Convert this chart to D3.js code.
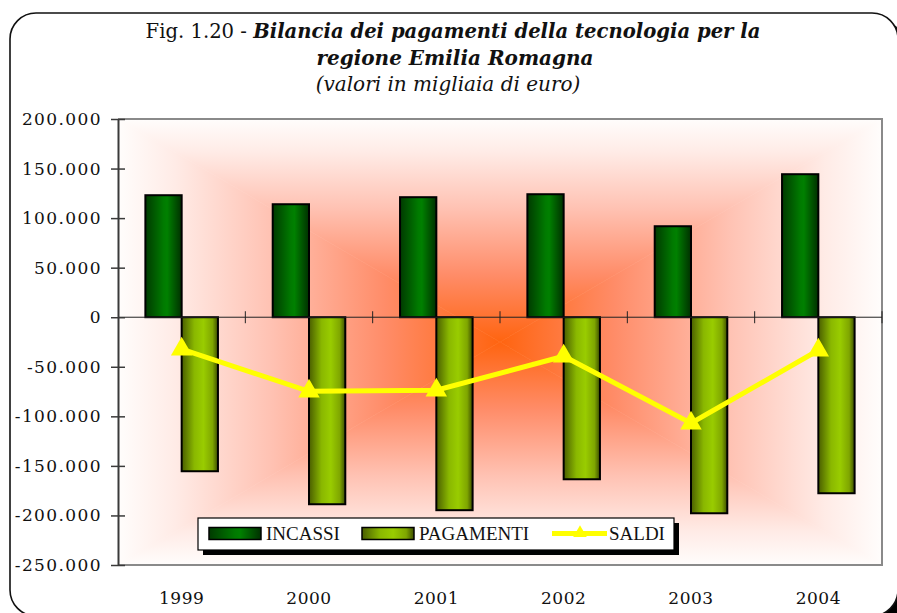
<!DOCTYPE html>
<html>
<head>
<meta charset="utf-8">
<script src="https://cdn.jsdelivr.net/npm/d3@7"></script>
<style>
  body { margin: 0; background: #fff; }
  svg { display: block; }
</style>
</head>
<body>
<svg id="chart" width="897" height="613"></svg>
<script>
// values in thousands of euro
const years = ['1999', '2000', '2001', '2002', '2003', '2004'];
const incassi = [123100, 114000, 121100, 124100, 91800, 144300];
const pagamenti = [-155400, -188700, -194700, -163500, -197800, -177600];
const saldi = [-32300, -74700, -73700, -39400, -107000, -33300];
const yTicks = [-250000, -200000, -150000, -100000, -50000, 0, 50000, 100000, 150000, 200000];
const seriesNames = ['INCASSI', 'PAGAMENTI', 'SALDI'];

const svg = d3.select('#chart');
const plot = { left: 118, right: 882, top: 119, bottom: 565 };

const fmt = d3.formatLocale({
  decimal: ',', thousands: '.', grouping: [3], currency: ['', ''], minus: '-'
}).format(',');

const x0 = d3.scaleBand()
  .domain(years)
  .range([plot.left, plot.right])
  .paddingInner(0.43)
  .paddingOuter(0.215);
const x1 = d3.scaleBand()
  .domain(['incassi', 'pagamenti'])
  .range([0, x0.bandwidth()]);
const y = d3.scaleLinear()
  .domain([-250000, 200000])
  .range([plot.bottom, plot.top]);

const defs = svg.append('defs');

// bar gradients
function barGradient(id, stops) {
  const g = defs.append('linearGradient').attr('id', id)
    .attr('x1', 0).attr('x2', 1).attr('y1', 0).attr('y2', 0);
  stops.forEach(s => g.append('stop').attr('offset', s[0]).attr('stop-color', s[1]));
}
barGradient('gInc', [[0, '#003a00'], [0.5, '#007a00'], [0.6, '#008000'], [1, '#003000']]);
barGradient('gPag', [[0, '#4a5e00'], [0.35, '#8ab800'], [0.6, '#99cc00'], [0.85, '#7fa600'], [1, '#3d4d00']]);

// outer frame with shadow
svg.append('rect')
  .attr('x', 16).attr('y', 19).attr('width', 888).attr('height', 603)
  .attr('rx', 26).attr('fill', '#000');
svg.append('rect')
  .attr('x', 10).attr('y', 13).attr('width', 888).attr('height', 603)
  .attr('rx', 26).attr('fill', '#fff')
  .attr('stroke', '#111').attr('stroke-width', 1.6);

// plot background: rectangular "from center" gradient built from 4 triangles
const cx = (plot.left + plot.right) / 2;
const cy = (plot.top + plot.bottom) / 2;
const bgStops = [[0, '#ff6410'], [0.3, '#ff8c68'], [0.6, '#ffc2b3'], [0.85, '#ffebe6'], [1, '#fffdfc']];
const sides = [
  { id: 'bgT', to: [cx, plot.top], pts: [[plot.left, plot.top], [plot.right, plot.top]] },
  { id: 'bgB', to: [cx, plot.bottom], pts: [[plot.left, plot.bottom], [plot.right, plot.bottom]] },
  { id: 'bgL', to: [plot.left, cy], pts: [[plot.left, plot.top], [plot.left, plot.bottom]] },
  { id: 'bgR', to: [plot.right, cy], pts: [[plot.right, plot.top], [plot.right, plot.bottom]] }
];
sides.forEach(s => {
  const g = defs.append('linearGradient').attr('id', s.id)
    .attr('gradientUnits', 'userSpaceOnUse')
    .attr('x1', cx).attr('y1', cy).attr('x2', s.to[0]).attr('y2', s.to[1]);
  bgStops.forEach(st => g.append('stop').attr('offset', st[0]).attr('stop-color', st[1]));
  svg.append('path')
    .attr('d', `M${cx},${cy}L${s.pts[0]}L${s.pts[1]}Z`)
    .attr('fill', `url(#${s.id})`)
    .attr('stroke', `url(#${s.id})`).attr('stroke-width', 0.6);
});

// plot border (gray) top/right/bottom
svg.append('path')
  .attr('d', `M${plot.left},${plot.top}H${plot.right}V${plot.bottom}H${plot.left}`)
  .attr('fill', 'none').attr('stroke', '#8a8a8a').attr('stroke-width', 2);

// bars
const barG = svg.append('g');
years.forEach((yr, i) => {
  barG.append('rect')
    .attr('x', x0(yr) + x1('incassi'))
    .attr('y', y(incassi[i]))
    .attr('width', x1.bandwidth())
    .attr('height', y(0) - y(incassi[i]))
    .attr('fill', 'url(#gInc)')
    .attr('stroke', '#000').attr('stroke-width', 2);
  barG.append('rect')
    .attr('x', x0(yr) + x1('pagamenti'))
    .attr('y', y(0))
    .attr('width', x1.bandwidth())
    .attr('height', y(pagamenti[i]) - y(0))
    .attr('fill', 'url(#gPag)')
    .attr('stroke', '#000').attr('stroke-width', 2);
});

// zero line with category ticks
svg.append('line')
  .attr('x1', plot.left).attr('x2', plot.right)
  .attr('y1', y(0)).attr('y2', y(0))
  .attr('stroke', '#222').attr('stroke-width', 1);
const bounds = years.map(yr => x0(yr) - x0.step() * x0.paddingInner() / 2).slice(1).concat([plot.right]);
svg.selectAll('.xtick').data(bounds).join('line')
  .attr('x1', d => d).attr('x2', d => d)
  .attr('y1', y(0) - 6).attr('y2', y(0) + 6)
  .attr('stroke', '#222').attr('stroke-width', 1);

// y axis
const yAxis = svg.append('g')
  .attr('transform', `translate(${plot.left},0)`)
  .call(d3.axisLeft(y).tickValues(yTicks).tickFormat(fmt).tickSizeInner(7).tickSizeOuter(0).tickPadding(10));
yAxis.select('.domain').attr('stroke', '#3a3a3a').attr('stroke-width', 2);
yAxis.selectAll('.tick line').attr('x2', 7).attr('x1', -7).attr('stroke', '#3a3a3a').attr('stroke-width', 1.5);
yAxis.selectAll('.tick text')
  .attr('x', -16)
  .attr('font-family', 'DejaVu Serif').attr('font-size', 17)
  .attr('letter-spacing', 1.4).attr('fill', '#111');

// x labels
svg.selectAll('.xlab').data(years).join('text')
  .attr('x', d => x0(d) + x0.bandwidth() / 2)
  .attr('y', 604)
  .attr('text-anchor', 'middle')
  .attr('font-family', 'DejaVu Serif').attr('font-size', 17)
  .attr('letter-spacing', 0.5).attr('fill', '#111')
  .text(d => d);

// saldi line
const line = d3.line()
  .x((d, i) => x0(years[i]) + x0.bandwidth() / 2)
  .y(d => y(d));
svg.append('path').datum(saldi)
  .attr('d', line)
  .attr('fill', 'none').attr('stroke', '#ffff00').attr('stroke-width', 5);
svg.selectAll('.mk').data(saldi).join('path')
  .attr('transform', (d, i) => `translate(${x0(years[i]) + x0.bandwidth() / 2},${y(d)})`)
  .attr('d', d3.symbol(d3.symbolTriangle, 200))
  .attr('fill', '#ffff00');

// legend
const lg = svg.append('g');
lg.append('rect').attr('x', 203).attr('y', 523).attr('width', 476).attr('height', 32).attr('fill', '#000');
lg.append('rect').attr('x', 198).attr('y', 518).attr('width', 476).attr('height', 32)
  .attr('fill', '#fff').attr('stroke', '#000').attr('stroke-width', 1.2);
const lgItems = [
  { name: seriesNames[0], x: 209, fill: 'url(#gInc)' },
  { name: seriesNames[1], x: 362, fill: 'url(#gPag)' },
  { name: seriesNames[2], x: 552, line: true }
];
lgItems.forEach(it => {
  if (it.line) {
    lg.append('line').attr('x1', it.x).attr('x2', it.x + 55).attr('y1', 533.5).attr('y2', 533.5)
      .attr('stroke', '#ffff00').attr('stroke-width', 5);
    lg.append('path').attr('transform', `translate(${it.x + 28},533)`)
      .attr('d', d3.symbol(d3.symbolTriangle, 80)).attr('fill', '#ffff00');
  } else {
    lg.append('rect').attr('x', it.x).attr('y', 527.5).attr('width', 52).attr('height', 12)
      .attr('fill', it.fill).attr('stroke', '#000').attr('stroke-width', 1.5);
  }
  lg.append('text')
    .attr('x', it.x + 57).attr('y', 540)
    .attr('font-family', 'Liberation Serif').attr('font-size', 19).attr('fill', '#111')
    .text(it.name);
});

// title
const title = svg.append('g').attr('font-family', 'DejaVu Serif').attr('fill', '#111').attr('text-anchor', 'middle');
const t1 = title.append('text').attr('x', 453).attr('y', 38).attr('font-size', 19.6);
t1.append('tspan').text('Fig. 1.20 - ');
t1.append('tspan').attr('font-weight', 'bold').attr('font-style', 'italic')
  .text('Bilancia dei pagamenti della tecnologia per la');
title.append('text').attr('x', 455).attr('y', 65).attr('font-size', 20)
  .attr('font-weight', 'bold').attr('font-style', 'italic')
  .text('regione Emilia Romagna');
title.append('text').attr('x', 448).attr('y', 91).attr('font-size', 20)
  .attr('font-style', 'italic')
  .text('(valori in migliaia di euro)');
</script>
</body>
</html>
